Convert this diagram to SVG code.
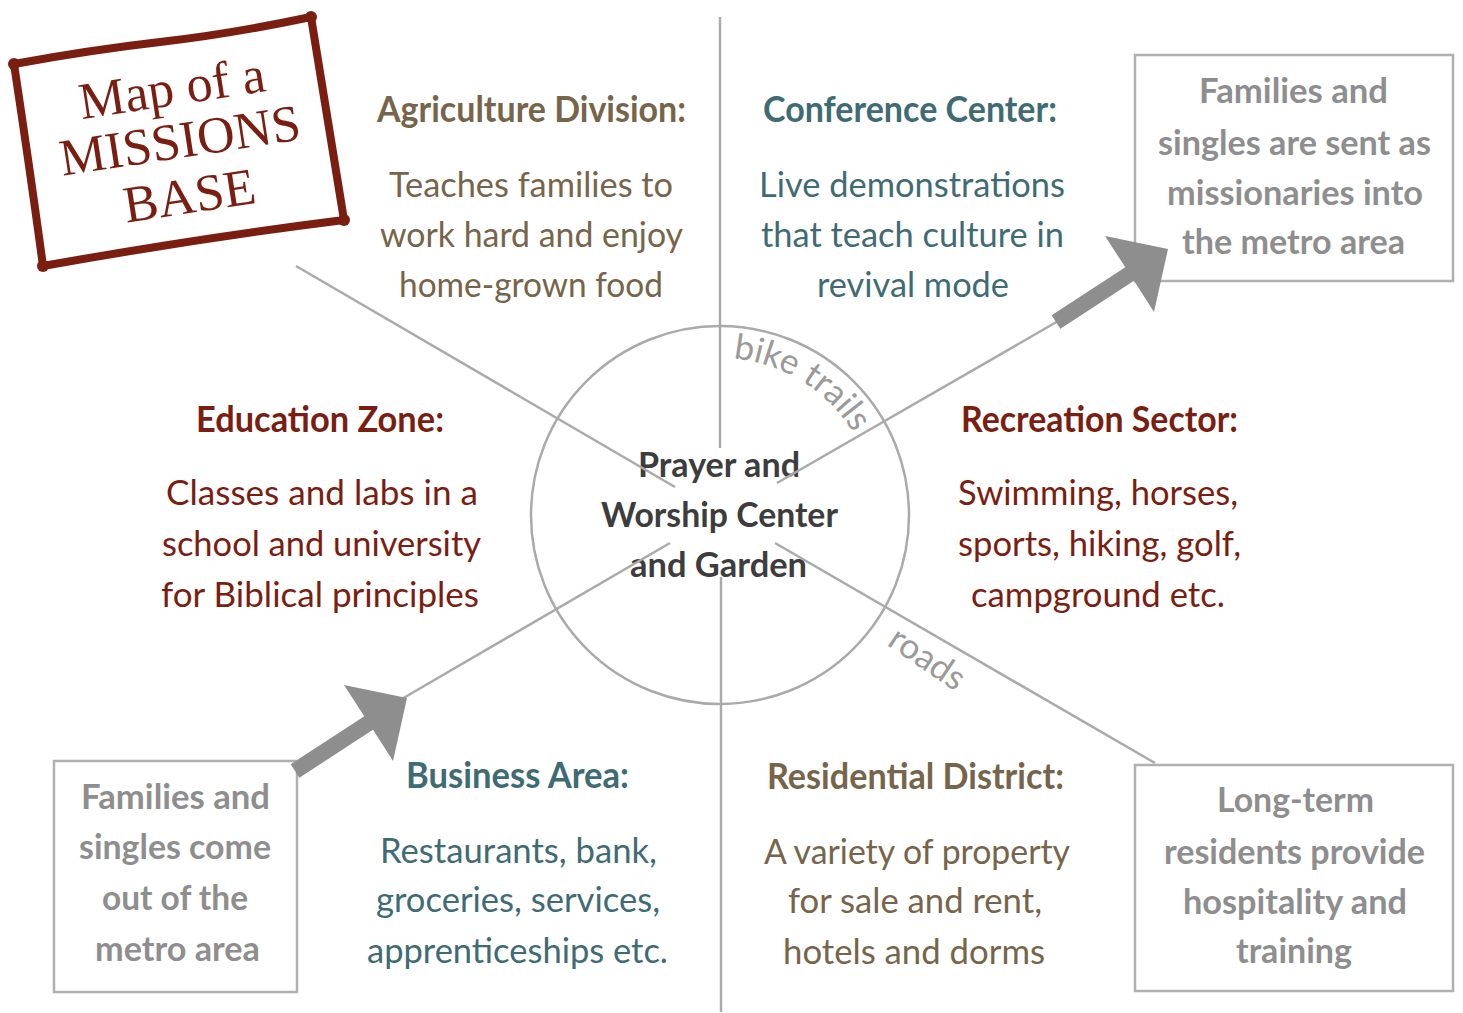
<svg xmlns="http://www.w3.org/2000/svg" width="1463" height="1013" viewBox="0 0 1463 1013">
<style>
text{font-family:Lato,"Open Sans","Liberation Sans",sans-serif;text-anchor:middle;}
.h{font-weight:bold;font-size:36px;}
.b{font-size:35px;}
.red{fill:#7a1e12;}
.olv{fill:#76654a;}
.teal{fill:#3f6b74;}
.gb{fill:#8e8e8e;font-weight:bold;font-size:35px;}
.ctr{fill:#3d3d3d;font-weight:bold;font-size:35px;}
.ln{stroke:#aaaaaa;stroke-width:2.5;fill:none;}
.box{fill:none;stroke:#b0b0b0;stroke-width:2.5;}
.arrow{fill:#8e8e8e;}
.lbl{fill:#9a9a9a;font-size:35px;}
.title{font-family:"Liberation Serif","DejaVu Serif",serif;font-size:52px;fill:#7a1e12;}
</style>
<rect width="1463" height="1013" fill="#ffffff"/>
<g id="title">
<path d="M14,64 Q90,50 160,42 T311,17 Q326,110 344,220 Q200,238 43,266 Q30,170 14,64 Z" fill="#ffffff" stroke="#7a1e12" stroke-width="8" stroke-linejoin="round"/>
<circle cx="14" cy="64" r="6" fill="#7a1e12"/>
<circle cx="311" cy="17" r="6" fill="#7a1e12"/>
<circle cx="344" cy="220" r="6" fill="#7a1e12"/>
<circle cx="43" cy="266" r="6" fill="#7a1e12"/>
<g transform="rotate(-8.7 178 141)">
<text class="title" x="180" y="105">Map of a</text>
<text class="title" x="180" y="158">MISSIONS</text>
<text class="title" x="181" y="214">BASE</text>
</g>
</g>
<g id="agriculture" class="olv">
<text class="h" x="531.5" y="122" textLength="309" lengthAdjust="spacingAndGlyphs">Agriculture Division:</text>
<text class="b" x="531" y="197" textLength="284" lengthAdjust="spacingAndGlyphs">Teaches families to</text>
<text class="b" x="531.5" y="247" textLength="303" lengthAdjust="spacingAndGlyphs">work hard and enjoy</text>
<text class="b" x="531" y="297" textLength="264" lengthAdjust="spacingAndGlyphs">home-grown food</text>
</g>
<g id="conference" class="teal">
<text class="h" x="910" y="122" textLength="294" lengthAdjust="spacingAndGlyphs">Conference Center:</text>
<text class="b" x="912" y="197" textLength="306" lengthAdjust="spacingAndGlyphs">Live demonstrations</text>
<text class="b" x="912.5" y="247" textLength="303" lengthAdjust="spacingAndGlyphs">that teach culture in</text>
<text class="b" x="913" y="297" textLength="192" lengthAdjust="spacingAndGlyphs">revival mode</text>
</g>
<g id="education" class="red">
<text class="h" x="320" y="432" textLength="248" lengthAdjust="spacingAndGlyphs">Education Zone:</text>
<text class="b" x="322" y="505" textLength="312" lengthAdjust="spacingAndGlyphs">Classes and labs in a</text>
<text class="b" x="321.5" y="556" textLength="319" lengthAdjust="spacingAndGlyphs">school and university</text>
<text class="b" x="320" y="607" textLength="318" lengthAdjust="spacingAndGlyphs">for Biblical principles</text>
</g>
<g id="recreation" class="red">
<text class="h" x="1099.5" y="432" textLength="277" lengthAdjust="spacingAndGlyphs">Recreation Sector:</text>
<text class="b" x="1098" y="505" textLength="280" lengthAdjust="spacingAndGlyphs">Swimming, horses,</text>
<text class="b" x="1099.5" y="556" textLength="283" lengthAdjust="spacingAndGlyphs">sports, hiking, golf,</text>
<text class="b" x="1098" y="607" textLength="254" lengthAdjust="spacingAndGlyphs">campground etc.</text>
</g>
<g id="center" class="ctr">
<text x="719" y="477" textLength="162" lengthAdjust="spacingAndGlyphs">Prayer and</text>
<text x="719.5" y="527" textLength="237" lengthAdjust="spacingAndGlyphs">Worship Center</text>
<text x="718.5" y="577" textLength="177" lengthAdjust="spacingAndGlyphs">and Garden</text>
</g>
<g id="business" class="teal">
<text class="h" x="517.5" y="788" textLength="223" lengthAdjust="spacingAndGlyphs">Business Area:</text>
<text class="b" x="518.5" y="863" textLength="277" lengthAdjust="spacingAndGlyphs">Restaurants, bank,</text>
<text class="b" x="518" y="912" textLength="284" lengthAdjust="spacingAndGlyphs">groceries, services,</text>
<text class="b" x="517.5" y="963" textLength="301" lengthAdjust="spacingAndGlyphs">apprenticeships etc.</text>
</g>
<g id="residential" class="olv">
<text class="h" x="915.5" y="789" textLength="297" lengthAdjust="spacingAndGlyphs">Residential District:</text>
<text class="b" x="917" y="864" textLength="306" lengthAdjust="spacingAndGlyphs">A variety of property</text>
<text class="b" x="915" y="913" textLength="254" lengthAdjust="spacingAndGlyphs">for sale and rent,</text>
<text class="b" x="914" y="964" textLength="262" lengthAdjust="spacingAndGlyphs">hotels and dorms</text>
</g>
<g id="sent-box">
<rect class="box" x="1135" y="55" width="318" height="226"/>
<text class="gb" x="1293.5" y="103" textLength="189" lengthAdjust="spacingAndGlyphs">Families and</text>
<text class="gb" x="1294.5" y="155" textLength="273" lengthAdjust="spacingAndGlyphs">singles are sent as</text>
<text class="gb" x="1295" y="205" textLength="256" lengthAdjust="spacingAndGlyphs">missionaries into</text>
<text class="gb" x="1293.5" y="254" textLength="223" lengthAdjust="spacingAndGlyphs">the metro area</text>
</g>
<g id="come-box">
<rect class="box" x="54" y="761" width="243" height="231"/>
<text class="gb" x="175.5" y="809" textLength="189" lengthAdjust="spacingAndGlyphs">Families and</text>
<text class="gb" x="175" y="859" textLength="192" lengthAdjust="spacingAndGlyphs">singles come</text>
<text class="gb" x="175" y="910" textLength="146" lengthAdjust="spacingAndGlyphs">out of the</text>
<text class="gb" x="177.5" y="961" textLength="165" lengthAdjust="spacingAndGlyphs">metro area</text>
</g>
<g id="residents-box">
<rect class="box" x="1135" y="765" width="318" height="226"/>
<text class="gb" x="1295.5" y="812" textLength="157" lengthAdjust="spacingAndGlyphs">Long-term</text>
<text class="gb" x="1294.5" y="864" textLength="261" lengthAdjust="spacingAndGlyphs">residents provide</text>
<text class="gb" x="1295" y="914" textLength="224" lengthAdjust="spacingAndGlyphs">hospitality and</text>
<text class="gb" x="1294" y="963" textLength="116" lengthAdjust="spacingAndGlyphs">training</text>
</g>
<g id="connectors">
<line class="ln" x1="720" y1="17" x2="720" y2="448"/>
<line class="ln" x1="721" y1="577" x2="721" y2="1012"/>
<line class="ln" x1="296" y1="266" x2="675" y2="487"/>
<line class="ln" x1="777" y1="483" x2="1060" y2="320"/>
<line class="ln" x1="670" y1="543" x2="400" y2="700"/>
<line class="ln" x1="775" y1="543" x2="1155" y2="763"/>
<circle class="ln" cx="720" cy="515" r="189"/>
<polygon class="arrow" points="290.6,764.3 364.3,716.3 344,685 407,698 393,761 373,729.7 299.4,777.7"/>
<polygon class="arrow" points="1051.6,315.3 1125.3,267.3 1105,236 1168,249 1154,312 1134,280.7 1060.4,328.7"/>
<path id="bikeArc" d="M733.2,358.6 A157,157 0 0 1 870,470" fill="none"/>
<text class="lbl" style="text-anchor:start"><textPath href="#bikeArc">bike trails</textPath></text>
<text class="lbl" transform="translate(927,659) rotate(34)" dy="11">roads</text>
</g>
</svg>
